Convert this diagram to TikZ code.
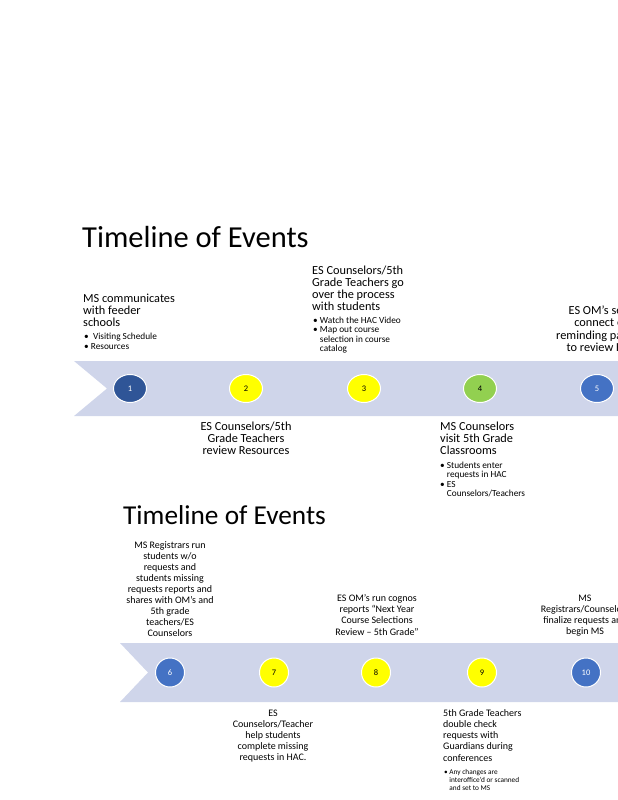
\documentclass[tikz,border=0pt]{standalone}
\usepackage{fontspec}
\setmainfont{Carlito}
\usetikzlibrary{shapes.geometric}
\definecolor{bandcol}{HTML}{CFD5EA}
\definecolor{dkblue}{HTML}{2F5597}
\definecolor{midblue}{HTML}{4472C4}
\definecolor{ylw}{HTML}{FFFF00}
\definecolor{grn}{HTML}{92D050}
\tikzset{
  band/.style={fill=bandcol, draw=none},
  dot/.style={ellipse, draw=white, line width=1pt, inner sep=0pt,
    font=\fontsize{8.5}{9}\selectfont},
  dotA/.style={dot, minimum width=33pt, minimum height=28pt},
  dotB/.style={dot, minimum width=29pt, minimum height=29pt},
  ttl/.style={inner sep=0pt, anchor=north west, text=black},
  bodyA/.style={inner sep=0pt, text=black, font=\fontsize{12.3}{12.1}\selectfont},
  bodyB/.style={inner sep=0pt, text=black, font=\fontsize{10}{11.1}\selectfont},
  bulA/.style={inner sep=0pt, text=black, align=left, anchor=north west, font=\fontsize{9.3}{9.6}\selectfont},
  bulB/.style={inner sep=0pt, text=black, align=left, anchor=north west, font=\fontsize{7.3}{8}\selectfont},
}
\begin{document}
\begin{tikzpicture}[x=1pt,y=-1pt]
\useasboundingbox (0,0) rectangle (618,800);
\clip (0,0) rectangle (618,800);
% ---- first timeline ----
\node[ttl, font=\fontsize{30.5}{34}\selectfont] (title1) at (82,226) {Timeline of Events};
\fill[band] (74,361) -- (700,361) -- (700,416) -- (74,416) -- (107,388.5) -- cycle;
\node[dotA, fill=dkblue, text=white] (c1) at (130,388.5) {1};
\node[dotA, fill=ylw, text=black] (c2) at (246,388.5) {2};
\node[dotA, fill=ylw, text=black] (c3) at (364,388.5) {3};
\node[dotA, fill=grn, text=black] (c4) at (480,388.5) {4};
\node[dotA, fill=midblue, text=white] (c5) at (597,388.5) {5};

\node[bodyA, align=left, anchor=north west] (t1) at (83,294) {MS communicates\\with feeder\\schools};
\node[bulA] (b1) at (84,333) {\textbullet\ \ Visiting Schedule\\\textbullet\ Resources};

\node[bodyA, align=left, anchor=north west] (t3) at (312,265.5) {ES Counselors/5th\\Grade Teachers go\\over the process\\with students};
\node[bulA] (b3) at (313,316.5) {\textbullet\ Watch the HAC Video\\\textbullet\ Map out course\\\hphantom{\textbullet\ }selection in course\\\hphantom{\textbullet\ }catalog};

\node[bodyA, align=center, anchor=north] (t5) at (602,306) {ES OM's send\\connect ed\\reminding parents\\to review HAC};

\node[bodyA, align=center, anchor=north] (t2) at (246,421.5) {ES Counselors/5th\\Grade Teachers\\review Resources};

\node[bodyA, align=left, anchor=north west] (t4) at (440,421.5) {MS Counselors\\visit 5th Grade\\Classrooms};
\node[bulA] (b4) at (440,461.5) {\textbullet\ Students enter\\\hphantom{\textbullet\ }requests in HAC\\\textbullet\ ES\\\hphantom{\textbullet\ }Counselors/Teachers};

% ---- second timeline ----
\node[ttl, font=\fontsize{27.3}{30}\selectfont] (title2) at (123,505) {Timeline of Events};
\fill[band] (120,643) -- (700,643) -- (700,702) -- (120,702) -- (148,672.5) -- cycle;
\node[dotB, fill=midblue, text=white] (c6) at (170,672.5) {6};
\node[dotB, fill=ylw, text=black] (c7) at (274,672.5) {7};
\node[dotB, fill=ylw, text=black] (c8) at (376,672.5) {8};
\node[dotB, fill=ylw, text=black] (c9) at (482,672.5) {9};
\node[dotB, fill=midblue, text=white] (c10) at (586,672.5) {10};

\node[bodyB, align=center, anchor=north] (t6) at (170,541) {MS Registrars run\\students w/o\\requests and\\students missing\\requests reports and\\shares with OM's and\\5th grade\\teachers/ES\\Counselors};

\node[bodyB, align=center, anchor=north] (t8) at (377,594.5) {ES OM's run cognos\\reports ``Next Year\\Course Selections\\Review -- 5th Grade''};

\node[bodyB, align=center, anchor=north] (t10) at (585,594.5) {MS\\Registrars/Counselors\\finalize requests and\\begin MS};

\node[bodyB, align=center, anchor=north] (t7) at (273,709.5) {ES\\Counselors/Teacher\\help students\\complete missing\\requests in HAC.};

\node[bodyB, align=left, anchor=north west] (t9) at (443,709.5) {5th Grade Teachers\\double check\\requests with\\Guardians during\\conferences};
\node[bulB] (b9) at (444,769.5) {\textbullet\ Any changes are\\\hphantom{\textbullet\ }interoffice'd or scanned\\\hphantom{\textbullet\ }and set to MS};
\end{tikzpicture}
\end{document}
